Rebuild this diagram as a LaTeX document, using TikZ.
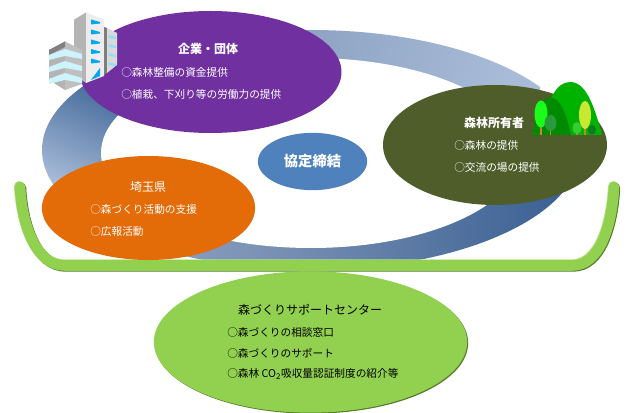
\documentclass[tikz,border=0pt]{standalone}
\usepackage{fontspec}
\setmainfont{Noto Sans CJK JP}
\usetikzlibrary{shapes.geometric}
\definecolor{kigyopurple}{HTML}{7030A0}
\definecolor{shinrinolive}{HTML}{4F5D2B}
\definecolor{saitamaorange}{HTML}{E36C09}
\definecolor{kyoteiblue}{HTML}{4F81BD}
\definecolor{supportgreen}{HTML}{92D050}
\definecolor{supportdark}{HTML}{557A2A}
\definecolor{supportlight}{HTML}{B8E38C}
\definecolor{ringlight}{HTML}{A8BCD8}
\definecolor{ringmid}{HTML}{7D93B6}
\definecolor{ringdark}{HTML}{30598E}
\definecolor{towergrey}{HTML}{B4B4B4}
\definecolor{windowblue}{HTML}{00A8F0}
\definecolor{windowpale}{HTML}{CDF3FC}
\definecolor{treebright}{HTML}{1AFF1A}
\definecolor{treemid}{HTML}{2A9A3A}
\definecolor{treeyellow}{HTML}{C8E832}
\definecolor{treesmall}{HTML}{33CC33}
\definecolor{treedark}{HTML}{117A22}
\pgfdeclarehorizontalshading{ringbottom}{100bp}{
  color(0bp)=(ringlight); color(10bp)=(ringlight); color(44bp)=(ringmid);
  color(76bp)=(ringdark); color(92bp)=(ringmid!70!ringlight); color(100bp)=(ringlight)}
\tikzset{
  party/.style={ellipse,inner sep=0pt,outer sep=0pt},
  titlewhite/.style={font=\fontsize{9}{10}\selectfont\bfseries,text=white,inner sep=0pt},
  linewhite/.style={font=\fontsize{8}{10}\selectfont,text=white,inner sep=0pt,anchor=west},
  titleblack/.style={font=\fontsize{9}{10}\selectfont,text=black,inner sep=0pt},
  lineblack/.style={font=\fontsize{8}{10}\selectfont,text=black,inner sep=0pt,anchor=west}
}
\begin{document}
\begin{tikzpicture}[x=0.75pt,y=-0.75pt]
\useasboundingbox (0,0) rectangle (639,413);
% Ring
\begin{scope}
\clip (311,150) ellipse [x radius=269,y radius=120];
\shade[top color=ringdark!80!ringlight,bottom color=ringlight,shading angle=-25] (30,85) rectangle (130,190);
\shade[left color=ringmid,right color=ringlight,shading angle=75] (130,20) rectangle (540,110);
\shade[shading=ringbottom] (42,190) rectangle (600,275);
\end{scope}
\fill[white] (311,153) ellipse [x radius=210,y radius=95];
% Bracket
\foreach \d/\c in {0.9/supportdark,-0.7/supportlight,0/supportgreen}
  \draw[line width=8pt,line cap=round,\c,shift={(\d,\d)}] (20,187) .. controls (22,225) and (36,265.5) .. (65,265.5) -- (572,265.5) .. controls (600,265.5) and (612,225) .. (614,187);
% Ellipses
\node[party,fill=kigyopurple,minimum width=196.5pt,minimum height=91.5pt] (kigyo) at (210.5,72) {};
\node[party,fill=shinrinolive,minimum width=168pt,minimum height=90pt] (shinrin) at (495,145) {};
\node[party,fill=saitamaorange,minimum width=160pt,minimum height=78pt] (saitama) at (148.5,208) {};
\node[party,fill=kyoteiblue,minimum width=82pt,minimum height=43pt,font=\fontsize{10.7}{12}\selectfont\bfseries,text=white] (kyotei) at (312.5,161.5) {協定締結};
\node[party,fill=supportdark,minimum width=235pt,minimum height=106pt] (supportshadow) at (311.5,343) {};
\node[party,fill=supportgreen,minimum width=235pt,minimum height=106pt] (support) at (310.5,342) {};
% Building
\fill[towergrey] (74,19.7) -- (86,12.5) -- (86,83) -- (74,75) -- cycle;
\fill[white!93!black] (86,12.5) -- (104,19.7) -- (104,76) -- (86,83) -- cycle;
\foreach \y in {19.5,29.5,39.5,49,58.5}
  \fill[windowblue] (91,\y) -- (100,\y+2.5) -- (100,\y+4) -- (91,\y+5) -- cycle;
\fill[windowblue] (91,80) -- (100,68) -- (100,76) -- cycle;
\fill[towergrey!70!black] (104,27) -- (107,28) -- (107,73) -- (104,75) -- cycle;
\fill[white!85!black] (107,28) -- (117,33) -- (117,65) -- (107,73) -- cycle;
\foreach \y in {35,44,53,62}
  \fill[windowpale!70!windowblue] (108.5,\y) -- (116,\y+2) -- (116,\y+4) -- (108.5,\y+3) -- cycle;
\fill[towergrey] (49,50) -- (65,41.5) -- (65,90) -- (49,80) -- cycle;
\fill[white!75!black] (65,41.5) -- (82,50) -- (82,84) -- (65,90) -- cycle;
\fill[gray] (49,50) -- (65,41.5) -- (65,47) -- (49,55) -- cycle;
\foreach \y in {55,67,79}
  \fill[windowpale] (49,\y) -- (65,\y-6) -- (82,\y-1) -- (82,\y+4) -- (65,\y+1) -- (49,\y+5) -- cycle;
% Mountain
\fill[green!70!black] (538,135) .. controls (548,100) and (556,82) .. (570,82) .. controls (586,82) and (594,105) .. (602,135) -- cycle;
\fill[green!54!black] (532,135) .. controls (538,108) and (541,97.7) .. (550,97.7) .. controls (560,97.7) and (566,112) .. (571,135) -- cycle;
\foreach \x/\y/\rx/\ry/\c in {541/114/6.5/13.5/treebright,550.5/123/6/8/treemid,585/115/6/14/treeyellow,577/128/4.5/6/treesmall,592/130/4/5/treedark}{
  \fill[brown!80!orange] (\x-0.7,\y) rectangle (\x+0.7,135);
  \fill[\c] (\x,\y) ellipse [x radius=\rx,y radius=\ry];
}
% Company
\node[titlewhite] (kigyotitle) at (208,49) {企業・団体};
\node[linewhite] (kigyoa) at (121,72) {○森林整備の資金提供};
\node[linewhite] (kigyob) at (121,94) {○植栽、下刈り等の労働力の提供};
% Owner
\node[titlewhite] (shinrintitle) at (494,123) {森林所有者};
\node[linewhite] (shinrina) at (454,145) {○森林の提供};
\node[linewhite] (shinrinb) at (454,167) {○交流の場の提供};
% Prefecture
\node[titlewhite,font=\fontsize{9}{10}\selectfont] (saitamatitle) at (148,187) {埼玉県};
\node[linewhite] (saitamaa) at (90,209) {○森づくり活動の支援};
\node[linewhite] (saitamab) at (90,231) {○広報活動};
% Support center
\node[titleblack] (supporttitle) at (310,310) {森づくりサポートセンター};
\node[lineblack] (supporta) at (227,332) {○森づくりの相談窓口};
\node[lineblack] (supportb) at (227,353) {○森づくりのサポート};
\node[lineblack] (supportc) at (227,374) {○森林 CO\textsubscript{2}吸収量認証制度の紹介等};
\end{tikzpicture}
\end{document}
